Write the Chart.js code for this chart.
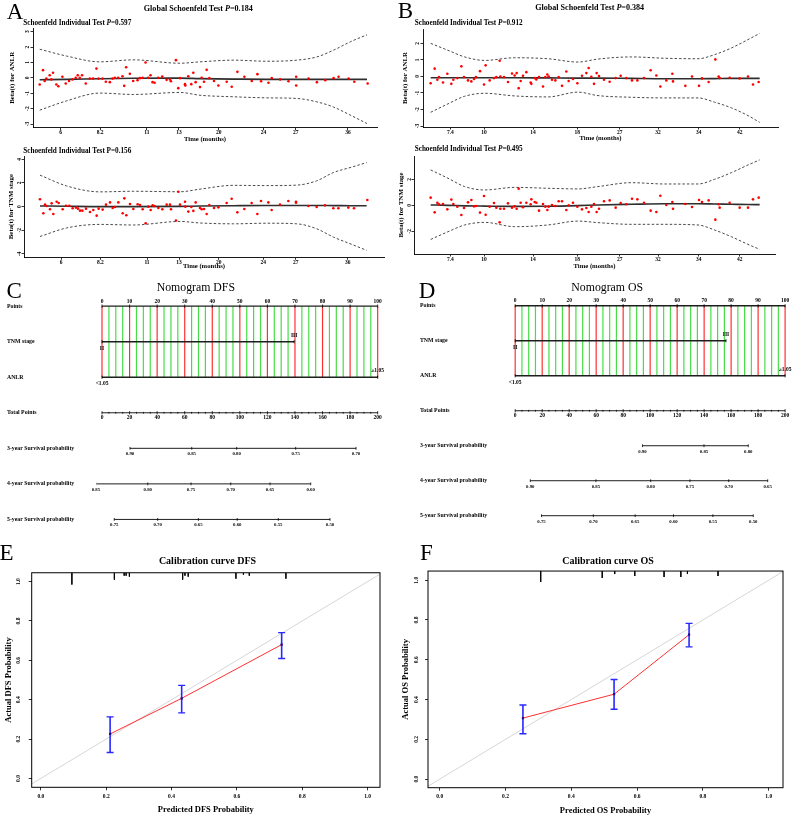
<!DOCTYPE html>
<html><head><meta charset="utf-8">
<script src="https://cdn.jsdelivr.net/npm/chart.js@4.4.1/dist/chart.umd.min.js"></script>
<style>
html,body{margin:0;padding:0;background:#fff;}
#wrap{position:relative;width:798px;height:818px;overflow:hidden;font-family:'Liberation Serif','Times New Roman',serif;background:#fff;}
canvas{position:absolute;}
.t{position:absolute;white-space:nowrap;line-height:1;color:#000;}
.c{transform:translate(-50%,-50%);}
.l{transform:translate(0,-50%);}
.letter{font-size:23px;font-weight:normal;}
.gt{font-size:8.1px;font-weight:bold;}
.st{font-size:7.2px;font-weight:bold;}
.nt{font-size:11.8px;font-weight:normal;}
.ct{font-size:10px;font-weight:bold;}
</style></head>
<body><div id="wrap">
<canvas id="a1" width="398" height="145" style="left:0px;top:0px"></canvas>
<canvas id="a2" width="398" height="130" style="left:0px;top:145px"></canvas>
<canvas id="b1" width="400" height="145" style="left:398px;top:0px"></canvas>
<canvas id="b2" width="402" height="130" style="left:396px;top:145px"></canvas>
<canvas id="c" width="398" height="262" style="left:0px;top:280px"></canvas>
<canvas id="d" width="400" height="258" style="left:398px;top:280px"></canvas>
<canvas id="e" width="398" height="255" style="left:0px;top:563px"></canvas>
<canvas id="f" width="400" height="255" style="left:398px;top:563px"></canvas>

<div class="t c letter" style="left:15px;top:11px">A</div>
<div class="t c gt" style="left:198.3px;top:8.5px">Global Schoenfeld Test <i>P</i>=0.184</div>
<div class="t l st" style="left:23.3px;top:24.2px">Schoenfeld Individual Test <i>P</i>=0.597</div>
<div class="t l st" style="left:23.3px;top:151.7px">Schoenfeld Individual Test P=0.156</div>
<div class="t c letter" style="left:405.5px;top:10.3px">B</div>
<div class="t c gt" style="left:589.7px;top:8.3px">Global Schoenfeld Test <i>P</i>=0.384</div>
<div class="t l st" style="left:414.7px;top:24px">Schoenfeld Individual Test <i>P</i>=0.912</div>
<div class="t l st" style="left:414.7px;top:149.7px">Schoenfeld Individual Test <i>P</i>=0.495</div>
<div class="t c letter" style="left:14.2px;top:289.5px">C</div>
<div class="t c nt" style="left:195.8px;top:288px">Nomogram DFS</div>
<div class="t c letter" style="left:427px;top:289.5px">D</div>
<div class="t c nt" style="left:607.2px;top:288px">Nomogram OS</div>
<div class="t c letter" style="left:6.5px;top:551.5px">E</div>
<div class="t c ct" style="left:207.5px;top:561px">Calibration curve DFS</div>
<div class="t c letter" style="left:426.3px;top:551.7px">F</div>
<div class="t c ct" style="left:608px;top:561px">Calibration curve OS</div>
</div>
<script>
// ================= DATA =================
// --- Panel A (DFS model): Schoenfeld residuals vs transformed time ---
const timeDFS = [2.0,3.0,3.5,4.0,5.0,5.5,6.0,7.0,7.6,8.8,9.8,10.8,11.8,12.8,13.4,14.0,14.7,15.8,17.0,18.0,19.0,19.6,20.8,21.8,23.0,23.8,24.5,25.5,26.8,27.3,27.9,29.0,30.0,31.3,32.0,32.8,33.7,34.5,35.2,35.8,36.4,37.5,38.7,40.0,41.0,41.3,42.8,43.5,44.0,45.5,45.6,46.5,47.4,48.0,48.7,50.0,50.5,51.2,52.0,52.8,54.2,55.5,58.0,59.5,61.2,63.3,65.5,67.2,68.3,70.5,71.5,74.0,76.5,78.8,78.8,82.5,85.0,87.5,90.0,91.5,94.5,96.2,100.2];
const residANLR_DFS = [-0.43,0.50,-0.2,-0.05,0.17,-0.1,0.33,-0.43,-0.55,0.07,-0.37,-0.2,-0.1,0.0,0.17,0.0,0.17,-0.37,-0.05,-0.05,0.6,-0.05,-0.05,-0.25,-0.28,-0.05,0.0,0.0,0.1,-0.52,0.69,0.26,-0.2,-0.15,-0.02,0.0,1.0,0.0,0.17,-0.28,-0.32,0.0,0.08,-0.13,-0.1,-0.22,1.15,-0.67,-0.02,-0.41,-0.5,0.1,-0.41,0.33,-0.28,-0.6,0.0,-0.25,0.52,-0.02,-0.2,-0.5,-0.25,-0.58,0.39,0.07,-0.2,0.24,-0.22,-0.32,-0.02,-0.1,-0.22,0.07,-0.5,-0.05,-0.28,-0.15,-0.02,0.07,-0.05,-0.25,-0.37];
const residTNM_DFS = [0.62,-0.56,0.17,0.06,-0.22,0.28,-0.62,0.42,0.31,-0.22,0.08,0.08,-0.14,-0.08,-0.17,-0.34,-0.34,-0.17,-0.45,-0.28,-0.76,-0.17,-0.25,0.17,0.36,-0.11,-0.03,0.36,-0.56,0.7,-0.73,0.22,-0.2,0.2,0.14,-0.22,-1.4,0.0,-0.28,0.11,0.06,-0.11,-0.22,0.17,0.17,-0.22,-1.17,1.26,0.17,0.42,0.0,-0.42,-0.03,-0.36,0.36,-0.11,-0.22,-0.2,-0.62,0.14,-0.11,-0.06,0.31,0.67,-0.48,-0.2,0.31,-0.62,0.48,0.36,-0.28,0.17,0.48,0.42,0.34,0.06,-0.03,0.11,-0.14,-0.14,-0.08,-0.14,0.56];
const knotsDFS = [2,10,20,30,44,50,60,70,79,85,90,95,100];
const fitANLR_DFS = [-0.12,-0.1,-0.06,-0.03,-0.02,-0.05,-0.08,-0.1,-0.1,-0.1,-0.1,-0.1,-0.1];
const upperANLR_DFS = [1.86,1.42,1.04,1.17,0.95,1.04,1.15,1.08,1.15,1.36,1.8,2.34,2.8];
const lowerANLR_DFS = [-2.1,-1.5,-0.99,-1.08,-0.95,-1.13,-1.23,-1.3,-1.34,-1.56,-1.9,-2.42,-2.97];
const fitTNM_DFS = [0.06,0.03,0.0,0.0,0.02,0.05,0.08,0.1,0.1,0.1,0.09,0.08,0.07];
const upperTNM_DFS = [2.66,1.75,1.25,1.3,1.26,1.48,1.8,1.78,1.82,2.18,2.88,3.3,3.72];
const lowerTNM_DFS = [-2.52,-1.8,-1.5,-1.55,-1.25,-1.38,-1.45,-1.4,-1.45,-1.87,-2.57,-3.13,-3.69];
const timeTickPosDFS = [8.3,20.1,34.1,43.7,55.6,69.0,78.7,94.3];
const timeTickLabDFS = ['6','8.2','11','13','20','24','27','36'];

// --- Panel B (OS model) ---
const timeOS = [2.3,3.5,4.3,4.8,6.0,7.3,8.5,9.1,10.3,11.5,12.3,13.5,14.5,15.3,15.9,17.1,18.3,18.8,20.0,21.3,22.0,23.0,23.2,24.3,25.5,26.7,27.5,28.1,28.7,29.3,30.0,31.0,32.3,32.5,33.5,34.0,34.8,36.0,36.7,37.3,37.7,38.7,39.7,40.7,41.7,43.0,43.7,45.0,46.3,47.7,49.0,49.7,50.5,51.3,52.1,52.8,54.3,56.0,57.8,59.3,61.0,62.7,64.3,66.3,68.3,70.0,71.2,73.0,74.8,75.0,78.7,80.7,82.8,83.7,85.7,87.7,88.7,89.0,92.0,95.0,97.5,99.0,100.7];
const residANLR_OS = [-0.41,0.47,-0.2,-0.04,-0.37,0.16,-0.45,-0.2,-0.1,0.61,-0.04,-0.24,-0.3,-0.16,-0.04,0.32,-0.49,0.67,-0.24,-0.1,-0.04,0.95,0.0,-0.04,-0.34,0.18,0.06,0.2,-0.71,-0.28,0.04,0.26,-0.37,-0.45,-0.1,-0.18,-0.04,-0.61,-0.04,0.12,0.0,-0.2,-0.24,-0.04,-0.57,0.3,-0.28,-0.16,-0.41,0.04,0.2,0.51,-0.02,-0.45,0.2,0.02,-0.2,-0.32,-0.1,0.04,-0.1,-0.24,-0.24,-0.1,0.37,0.06,-0.61,-0.24,0.16,-0.3,-0.57,0.0,-0.57,-0.12,-0.34,1.03,0.0,-0.1,-0.08,-0.12,0.0,-0.49,-0.34];
const residTNM_OS = [0.59,-0.54,0.2,0.08,0.1,-0.31,0.44,0.1,-0.1,-0.74,-0.2,0.23,0.41,-0.08,-0.05,-0.56,0.72,-0.72,-0.1,0.18,-0.18,-1.31,-0.26,-0.26,0.15,-0.18,-0.08,-0.26,1.28,0.2,-0.15,0.2,0.08,0.46,0.26,0.2,-0.41,0.1,-0.1,-0.36,-0.1,0.03,-0.05,0.31,0.31,-0.36,0.0,0.2,-0.1,-0.31,-0.2,-0.51,-0.1,0.1,-0.51,-0.26,0.31,0.38,-0.18,0.18,0.08,0.51,0.46,0.2,-0.41,-0.51,0.74,0.03,0.26,-0.26,0.1,-0.13,0.41,0.26,0.38,-1.1,0.08,-0.18,0.2,-0.18,-0.18,0.46,0.59];
const knotsOS = [2.3,7.5,12.5,18.5,27.5,37.5,46.5,52.5,62.5,72.5,82.5,87.5,92.5,97.5,101];
const fitANLR_OS = [-0.08,-0.08,-0.08,-0.08,-0.08,-0.09,-0.1,-0.1,-0.12,-0.14,-0.14,-0.13,-0.12,-0.12,-0.12];
const upperANLR_OS = [2.0,1.58,1.18,0.97,1.13,1.07,0.87,1.05,1.18,1.1,1.07,1.32,1.72,2.23,2.6];
const lowerANLR_OS = [-2.17,-1.66,-1.2,-1.02,-1.18,-1.24,-0.95,-1.16,-1.26,-1.3,-1.3,-1.56,-1.9,-2.37,-2.78];
const fitTNM_OS = [0.03,0.0,-0.04,-0.06,-0.08,-0.07,-0.02,0.03,0.08,0.12,0.12,0.1,0.08,0.06,0.05];
const upperTNM_OS = [2.72,2.08,1.44,1.18,1.38,1.31,1.26,1.44,1.74,1.64,1.64,2.0,2.51,3.1,3.49];
const lowerTNM_OS = [-2.62,-2.03,-1.51,-1.31,-1.64,-1.51,-1.21,-1.33,-1.46,-1.46,-1.51,-1.9,-2.41,-3.0,-3.38];
const timeTickPosOS = [8.2,18.3,33.0,46.3,59.0,70.5,82.7,95.0];
const timeTickLabOS = ['7.4','10','14','18','27','32','34','42'];

// --- Panels C / D: nomograms ---
const nomoRowNames = ['Points','TNM stage','ANLR','Total Points','3-year Survival probability','4-year Survival probability','5-year Survival probability'];
const pointsTicks = [0,10,20,30,40,50,60,70,80,90,100];
const totalPointsTicks = [0,20,40,60,80,100,120,140,160,180,200];
const tnmLevels = ['II','III'];
const anlrLevels = ['<1.05','\u22651.05'];
const tnmPointsDFS = [0,69.7];
const anlrPointsDFS = [0,100];
const surv3LabDFS = ['0.90','0.85','0.80','0.75','0.70'];
const surv3PosDFS = [20.3,65.1,97.7,140.5,184.3];
const surv4LabDFS = ['0.85','0.80','0.75','0.70','0.65','0.60'];
const surv4PosDFS = [-4.4,33.2,64.6,93.4,121.9,151.4];
const surv5LabDFS = ['0.75','0.70','0.65','0.60','0.55','0.50'];
const surv5PosDFS = [8.9,40.4,69.9,98.1,127.9,165.4];
const tnmPointsOS = [0,78.1];
const anlrPointsOS = [0,100];
const surv3LabOS = ['0.90','0.85','0.80'];
const surv3PosOS = [94.3,139.9,172.7];
const surv4LabOS = ['0.90','0.85','0.80','0.75','0.70','0.65'];
const surv4PosOS = [11.2,59.8,100.4,129.5,158.2,187.1];
const surv5LabOS = ['0.75','0.70','0.65','0.60','0.55','0.50'];
const surv5PosOS = [19.5,57.9,88.9,117.3,146.5,176.4];

// --- Panels E / F: calibration ---
const probTicks = [0,0.2,0.4,0.6,0.8,1.0];
const predDFS = [0.212,0.431,0.737];
const obsDFS = [0.226,0.407,0.680];
const loDFS = [0.132,0.333,0.609];
const hiDFS = [0.313,0.473,0.741];
const rugPredDFS = [0.095,0.225,0.255,0.261,0.271,0.434,0.441,0.451,0.597,0.62,0.638,0.75];
const rugCountDFS = [12,7,3,3,4,7,3,4,6,2,3,6];
const predOS = [0.253,0.530,0.758];
const obsOS = [0.307,0.427,0.726];
const loOS = [0.228,0.351,0.665];
const hiOS = [0.373,0.501,0.783];
const rugPredOS = [0.307,0.494,0.532,0.593,0.682,0.733,0.753,0.846];
const rugCountOS = [11,7,3,5,6,6,3,5];

// ================= RENDERING =================
const SERIF = "'Liberation Serif','Times New Roman',serif";
Chart.defaults.font.family = SERIF;
Chart.defaults.font.weight = 'bold';
Chart.defaults.color = '#000';
Chart.defaults.animation = false;

const xy = (xs, ys) => xs.map((x, i) => ({x: x, y: ys[i]}));
const fixTicks = vals => scale => { scale.ticks = vals.map(v => ({value: v})); };
const baseOpts = pad => ({
  responsive: false, animation: false, devicePixelRatio: 1, events: [],
  layout: {padding: pad},
  plugins: {legend: {display: false}, tooltip: {enabled: false}}
});

function schoenfeld(id, o) {
  const opts = baseOpts(o.pad);
  opts.scales = {
    x: {type: 'linear', min: o.xMin, max: o.xMax, afterBuildTicks: fixTicks(o.xTicks),
        afterFit: s => { s.height = o.xH; },
        ticks: {autoSkip: false, maxRotation: 0, minRotation: 0, padding: o.xTickPad,
                font: {size: 5.5, lineHeight: 1}, callback: (v, i) => o.xLabels[i]},
        grid: {drawOnChartArea: false, drawTicks: true, tickLength: 2.5, tickColor: '#000', tickWidth: 0.8},
        border: {display: true, color: '#000', width: 0.9},
        title: {display: true, text: 'Time (months)', font: {size: 6.7, lineHeight: 1}, padding: {top: 0, bottom: o.xTitlePad}}},
    y: {type: 'linear', min: o.yMin, max: o.yMax, afterBuildTicks: fixTicks(o.yTicks),
        afterFit: s => { s.width = o.yW; },
        ticks: {autoSkip: false, minRotation: 90, maxRotation: 90, crossAlign: 'center', padding: o.yTickPad,
                font: {size: 5.5, lineHeight: 1}, callback: v => String(v)},
        grid: {drawOnChartArea: false, drawTicks: true, tickLength: 2.5, tickColor: '#000', tickWidth: 0.8},
        border: {display: true, color: '#000', width: 0.9},
        title: {display: true, text: o.yTitle, font: {size: 6.9, lineHeight: 1}, padding: {top: o.yTitlePad, bottom: 0}}}
  };
  return new Chart(document.getElementById(id), {
    type: 'scatter',
    data: {datasets: [
      {data: xy(o.time, o.resid), pointRadius: 1.3, pointBackgroundColor: '#ff0000', pointBorderWidth: 0, pointHoverRadius: 0},
      {type: 'line', data: xy(o.knots, o.fit), borderColor: '#2e2e2e', borderWidth: 1.6, pointRadius: 0, cubicInterpolationMode: 'monotone'},
      {type: 'line', data: xy(o.knots, o.upper), borderColor: '#4a4a4a', borderWidth: 1, borderDash: [2.5, 2], pointRadius: 0, cubicInterpolationMode: 'monotone'},
      {type: 'line', data: xy(o.knots, o.lower), borderColor: '#4a4a4a', borderWidth: 1, borderDash: [2.5, 2], pointRadius: 0, cubicInterpolationMode: 'monotone'}
    ]},
    options: opts
  });
}

schoenfeld('a1', {time: timeDFS, resid: residANLR_DFS, knots: knotsDFS, fit: fitANLR_DFS, upper: upperANLR_DFS, lower: lowerANLR_DFS,
  xTicks: timeTickPosDFS, xLabels: timeTickLabDFS, xMin: 0, xMax: 103, yMin: -3.24, yMax: 3.24, yTicks: [-3,-2,-1,0,1,2,3],
  yTitle: 'Beta(t) for ANLR', pad: {left: 0, top: 28, right: 21, bottom: 0}, yW: 33, xH: 17.3,
  xTickPad: 0, yTickPad: 0.2, yTitlePad: 8.55, xTitlePad: 2.65});
schoenfeld('a2', {time: timeDFS, resid: residTNM_DFS, knots: knotsDFS, fit: fitTNM_DFS, upper: upperTNM_DFS, lower: lowerTNM_DFS,
  xTicks: timeTickPosDFS, xLabels: timeTickLabDFS, xMin: -2.8, xMax: 105.2, yMin: -4.28, yMax: 4.28, yTicks: [-4,-2,0,2,4],
  yTitle: 'Beta(t) for TNM stage', pad: {left: 0, top: 11, right: 14, bottom: 0}, yW: 24, xH: 17.7,
  xTickPad: 0.15, yTickPad: 0, yTitlePad: 8.25, xTitlePad: 4.95});
schoenfeld('b1', {time: timeOS, resid: residANLR_OS, knots: knotsOS, fit: fitANLR_OS, upper: upperANLR_OS, lower: lowerANLR_OS,
  xTicks: timeTickPosOS, xLabels: timeTickLabOS, xMin: 0, xMax: 106.5, yMin: -3.06, yMax: 2.87, yTicks: [-3,-2,-1,0,1,2],
  yTitle: 'Beta(t) for ANLR', pad: {left: 0, top: 29, right: 20, bottom: 0}, yW: 25, xH: 18,
  xTickPad: 0, yTickPad: 0.2, yTitlePad: 3.85, xTitlePad: 3.65});
schoenfeld('b2', {time: timeOS, resid: residTNM_OS, knots: knotsOS, fit: fitTNM_OS, upper: upperTNM_OS, lower: lowerTNM_OS,
  xTicks: timeTickPosOS, xLabels: timeTickLabOS, xMin: -2.7, xMax: 105.6, yMin: -3.74, yMax: 3.79, yTicks: [-2,0,2],
  yTitle: 'Beta(t) for TNM stage', pad: {left: 0, top: 11, right: 23, bottom: 0}, yW: 18, xH: 21,
  xTickPad: 0.05, yTickPad: 0, yTitlePad: 1.85, xTitlePad: 5.65});

// ---- nomograms ----
function nomoLabelPlugin(groups) {
  return {id: 'nomoLabels', afterDatasetsDraw(chart) {
    const ctx = chart.ctx; ctx.save();
    ctx.fillStyle = '#000'; ctx.textAlign = 'center'; ctx.textBaseline = 'middle';
    groups.forEach(g => {
      ctx.font = 'bold ' + g.size + 'px ' + SERIF;
      const xs = chart.scales[g.axis];
      const yPix = chart.scales.y.getPixelForValue(g.row) + g.dy;
      g.pos.forEach((p, i) => ctx.fillText(g.labels[i], xs.getPixelForValue(p), yPix));
    });
    ctx.restore();
  }};
}
function nomogram(id, o) {
  const GRID_STEP = 2.5;
  const gridRed = [], gridGreen = [];
  for (let k = 0; k * GRID_STEP <= 100; k++) {
    const p = k * GRID_STEP;
    (k % 4 === 0 ? gridRed : gridGreen).push({x: p, y: 0}, {x: p, y: 2}, {x: p, y: null});
  }
  const minorTotal = [];
  for (let v = 0; v <= 200; v += 5) if (v % 20 !== 0) minorTotal.push(v);
  const last = a => a[a.length - 1];
  const seg = (a, b, row) => [{x: a, y: row}, {x: b, y: row}];
  const lineDS = (data, axis, w) => ({type: 'line', data: data, xAxisID: axis, borderColor: '#1e1e1e', borderWidth: w, pointRadius: 0});
  const tickDS = (xs, row, axis, r) => ({data: xs.map(x => ({x: x, y: row})), xAxisID: axis, pointStyle: 'line', pointRotation: 90,
      pointRadius: r, pointBorderColor: '#000', pointBorderWidth: 0.8, pointBackgroundColor: '#000'});
  const datasets = [
    tickDS(pointsTicks, 0, 'x', 1.6),
    tickDS(o.tnm, 1, 'x', 1.6),
    tickDS(o.anlr, 2, 'x', 1.6),
    tickDS(totalPointsTicks, 3, 'xt', 1.6),
    tickDS(minorTotal, 3, 'xt', 0.9),
    ...o.surv.map((s, k) => tickDS(s.pos, 4 + k, 'xt', 1.4)),
    lineDS(seg(pointsTicks[0], last(pointsTicks), 0), 'x', 1.4),
    lineDS(seg(o.tnm[0], last(o.tnm), 1), 'x', 1.4),
    lineDS(seg(o.anlr[0], last(o.anlr), 2), 'x', 1.4),
    lineDS(seg(totalPointsTicks[0], last(totalPointsTicks), 3), 'xt', 1),
    ...o.surv.map((s, k) => lineDS(seg(s.pos[0], last(s.pos), 4 + k), 'xt', 1)),
    {type: 'line', data: gridRed, borderColor: 'rgba(255,25,25,0.9)', borderWidth: 1.2, pointRadius: 0, spanGaps: false},
    {type: 'line', data: gridGreen, borderColor: 'rgba(40,215,40,0.85)', borderWidth: 1.2, pointRadius: 0, spanGaps: false}
  ];
  const groups = [
    {axis: 'x', row: 0, pos: pointsTicks, labels: pointsTicks.map(String), dy: -5, size: 5.5},
    {axis: 'x', row: 1, pos: [o.tnm[0]], labels: [tnmLevels[0]], dy: 6.6, size: 5.5},
    {axis: 'x', row: 1, pos: [o.tnm[1]], labels: [tnmLevels[1]], dy: -6, size: 5.5},
    {axis: 'x', row: 2, pos: [o.anlr[0]], labels: [anlrLevels[0]], dy: 6.4, size: 5.5},
    {axis: 'x', row: 2, pos: [o.anlr[1]], labels: [anlrLevels[1]], dy: -6.6, size: 5.5},
    {axis: 'xt', row: 3, pos: totalPointsTicks, labels: totalPointsTicks.map(String), dy: 5.3, size: 5.5},
    ...o.surv.map((s, k) => ({axis: 'xt', row: 4 + k, pos: s.pos, labels: s.labels, dy: 5.7, size: 4.8}))
  ];
  const opts = baseOpts(o.pad);
  opts.scales = {
    x: {type: 'linear', display: false, min: o.xMin, max: o.xMax},
    xt: {type: 'linear', axis: 'x', position: 'bottom', display: false, min: o.xMin * 2, max: o.xMax * 2},
    y: {type: 'linear', reverse: true, min: -0.6, max: 6.5, afterBuildTicks: fixTicks([0,1,2,3,4,5,6]),
        afterFit: s => { s.width = o.yW; },
        ticks: {autoSkip: false, crossAlign: 'far', padding: 0, font: {size: 5.8, lineHeight: 1}, callback: v => nomoRowNames[v]},
        grid: {display: false, drawTicks: false}, border: {display: false}}
  };
  return new Chart(document.getElementById(id), {type: 'scatter', data: {datasets: datasets}, options: opts, plugins: [nomoLabelPlugin(groups)]});
}
nomogram('c', {tnm: tnmPointsDFS, anlr: anlrPointsDFS,
  surv: [{pos: surv3PosDFS, labels: surv3LabDFS}, {pos: surv4PosDFS, labels: surv4LabDFS}, {pos: surv5PosDFS, labels: surv5LabDFS}],
  xMin: -2, xMax: 104, pad: {left: 7, top: 4.28, right: 9.3, bottom: 0.7}, yW: 89.5});
nomogram('d', {tnm: tnmPointsOS, anlr: anlrPointsOS,
  surv: [{pos: surv3PosOS, labels: surv3LabOS}, {pos: surv4PosOS, labels: surv4LabOS}, {pos: surv5PosOS, labels: surv5LabOS}],
  xMin: -2, xMax: 103, pad: {left: 22, top: 3.5, right: 0.1, bottom: 0.1}, yW: 89.8});

// ---- calibration ----
const framePlugin = {id: 'frame', afterDraw(chart) {
  const a = chart.chartArea, ctx = chart.ctx; ctx.save();
  ctx.strokeStyle = '#000'; ctx.lineWidth = 1;
  ctx.strokeRect(a.left, a.top, a.right - a.left, a.bottom - a.top); ctx.restore();
}};
function calibration(id, o) {
  const RUG_STEP = 0.005;
  const bars = [], caps = [], rug = [];
  o.pred.forEach((p, i) => { bars.push({x: p, y: o.lo[i]}, {x: p, y: o.hi[i]}, {x: p, y: null}); caps.push({x: p, y: o.lo[i]}, {x: p, y: o.hi[i]}); });
  o.rugX.forEach((p, i) => { rug.push({x: p, y: o.yMax}, {x: p, y: o.yMax - o.rugN[i] * RUG_STEP}, {x: p, y: null}); });
  const opts = baseOpts(o.pad);
  opts.scales = {
    x: {type: 'linear', min: o.xMin, max: o.xMax, afterBuildTicks: fixTicks(probTicks),
        afterFit: s => { s.height = o.xH; },
        ticks: {autoSkip: false, maxRotation: 0, minRotation: 0, padding: o.xTickPad, font: {size: 5.5, lineHeight: 1}, callback: v => v.toFixed(1)},
        grid: {drawOnChartArea: false, drawTicks: true, tickLength: 3, tickColor: '#000', tickWidth: 0.8},
        border: {display: false},
        title: {display: true, text: o.xTitle, font: {size: 8.5, lineHeight: 1}, padding: {top: 0, bottom: o.xTitlePad}}},
    y: {type: 'linear', min: o.yMin, max: o.yMax, afterBuildTicks: fixTicks(probTicks),
        afterFit: s => { s.width = o.yW; },
        ticks: {autoSkip: false, minRotation: 90, maxRotation: 90, crossAlign: 'center', padding: o.yTickPad, font: {size: 5.5, lineHeight: 1}, callback: v => v.toFixed(1)},
        grid: {drawOnChartArea: false, drawTicks: true, tickLength: 3, tickColor: '#000', tickWidth: 0.8},
        border: {display: false},
        title: {display: true, text: o.yTitle, font: {size: 8.5, lineHeight: 1}, padding: {top: o.yTitlePad, bottom: 0}}}
  };
  return new Chart(document.getElementById(id), {
    type: 'scatter',
    data: {datasets: [
      {data: xy(o.pred, o.obs), pointStyle: 'rect', pointRadius: 1.6, pointBackgroundColor: '#2a0a80', pointBorderWidth: 0},
      {data: caps, pointStyle: 'line', pointRadius: 3.5, pointBorderColor: '#2828ff', pointBorderWidth: 1.4},
      {type: 'line', data: bars, borderColor: '#2828ff', borderWidth: 1.6, pointRadius: 0, spanGaps: false},
      {type: 'line', data: xy(o.pred, o.obs), borderColor: '#ff3030', borderWidth: 1, pointRadius: 0},
      {type: 'line', data: rug, borderColor: '#000', borderWidth: 0.9, pointRadius: 0, spanGaps: false},
      {type: 'line', data: [{x: -0.2, y: -0.2}, {x: 1.2, y: 1.2}], borderColor: '#d6d6d6', borderWidth: 1, pointRadius: 0}
    ]},
    options: opts,
    plugins: [framePlugin]
  });
}
calibration('e', {pred: predDFS, obs: obsDFS, lo: loDFS, hi: hiDFS, rugX: rugPredDFS, rugN: rugCountDFS,
  xMin: -0.028, xMax: 1.038, yMin: -0.045, yMax: 1.045, xTitle: 'Predicted DFS Probability', yTitle: 'Actual DFS Probability',
  pad: {left: 0, top: 3.7, right: 18, bottom: 0}, yW: 31.7, xH: 30.7, xTickPad: 3.9, yTickPad: 7.0, yTitlePad: 4.05, xTitlePad: 4.45});
calibration('f', {pred: predOS, obs: obsOS, lo: loOS, hi: hiOS, rugX: rugPredOS, rugN: rugCountOS,
  xMin: -0.0356, xMax: 1.0435, yMin: -0.043, yMax: 1.046, xTitle: 'Predicted OS Probability', yTitle: 'Actual OS Probability',
  pad: {left: 0, top: 3.7, right: 15, bottom: 0}, yW: 30, xH: 30.3, xTickPad: 3.5, yTickPad: 5.3, yTitlePad: 3.05, xTitlePad: 2.75});
</script>
</body></html>
